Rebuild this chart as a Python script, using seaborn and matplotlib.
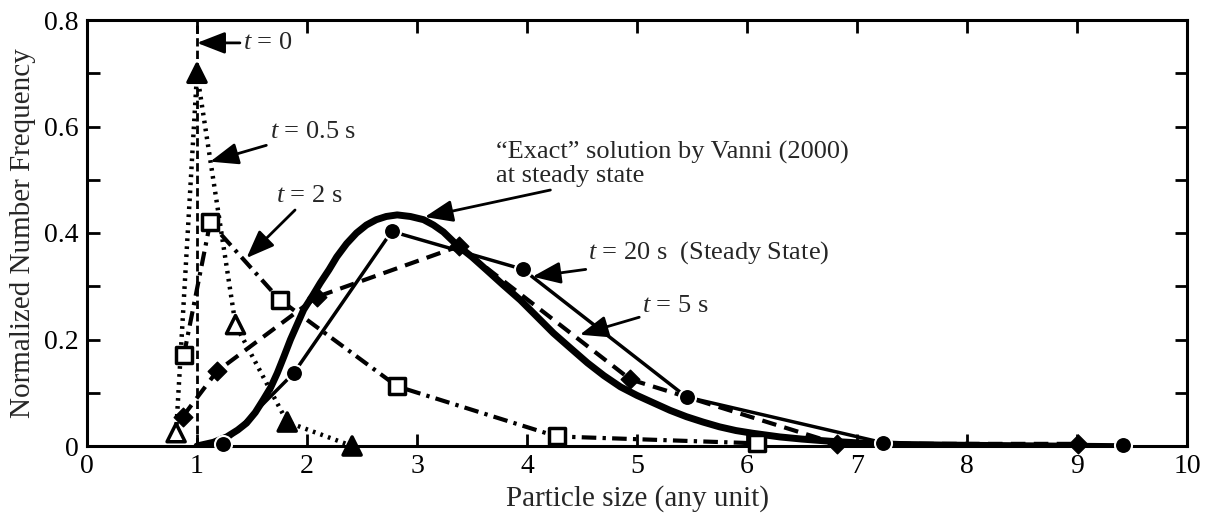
import numpy as np
import pandas as pd
import matplotlib
matplotlib.use("Agg")
import matplotlib.pyplot as plt
import seaborn as sns
from matplotlib.ticker import MultipleLocator, FixedLocator

sns.set_theme(style="ticks")
plt.rcParams['font.family'] = ['Liberation Serif', 'DejaVu Serif']
plt.rcParams['mathtext.fontset'] = 'custom'
plt.rcParams['mathtext.it'] = 'Liberation Serif:italic'
plt.rcParams['mathtext.rm'] = 'Liberation Serif'

# ---- data ----
t0_x = [1.0, 1.0]
t0_y = [0.0, 0.8]

t05_x = [0.81, 1.0, 1.35, 1.82, 2.41]
t05_y = [0.025, 0.70, 0.228, 0.045, 0.0]
t05_filled = [False, True, False, True, True]

t2_x = [0.88, 1.12, 1.75, 2.82, 4.27, 6.09]
t2_y = [0.17, 0.42, 0.275, 0.112, 0.018, 0.005]

t5_x = [0.87, 1.18, 2.09, 3.38, 4.94, 6.82, 9.01]
t5_y = [0.055, 0.14, 0.28, 0.375, 0.125, 0.004, 0.004]

t20_x = [1.24, 1.88, 2.77, 3.96, 5.45, 7.24, 9.42]
t20_y = [0.004, 0.137, 0.403, 0.332, 0.092, 0.006, 0.002]

exact_x = [1.0, 1.15, 1.27, 1.37, 1.45, 1.53, 1.6, 1.67, 1.73, 1.79, 1.85,
           1.91, 1.97, 2.05, 2.12, 2.2, 2.27, 2.36, 2.45, 2.54, 2.63, 2.72,
           2.82, 2.94, 3.06, 3.15, 3.24, 3.36, 3.5, 3.63, 3.78, 3.94, 4.09,
           4.24, 4.4, 4.55, 4.7, 4.85, 5.0, 5.15, 5.3, 5.45, 5.6, 5.75, 5.9,
           6.05, 6.3, 6.5, 6.75, 7.0, 7.25, 7.5, 7.75, 8.0]
exact_y = [0.0, 0.007, 0.017, 0.03, 0.043, 0.063, 0.086, 0.11, 0.137, 0.168,
           0.2, 0.228, 0.256, 0.282, 0.306, 0.331, 0.355, 0.38, 0.40, 0.415,
           0.425, 0.431, 0.434, 0.431, 0.425, 0.415, 0.402, 0.378, 0.355,
           0.331, 0.303, 0.274, 0.243, 0.212, 0.183, 0.156, 0.132, 0.111,
           0.095, 0.081, 0.067, 0.055, 0.045, 0.036, 0.029, 0.024, 0.017,
           0.013, 0.009, 0.006, 0.004, 0.002, 0.001, 0.0]

# ---- figure ----
fig = plt.figure(figsize=(12.15, 5.27), dpi=100)
ax = fig.add_axes([87/1215, (527-446)/527, 1100/1215, 426/527])

K = 'black'
common = dict(ax=ax, color=K, sort=False, estimator=None, errorbar=None)
sns.lineplot(x=exact_x, y=exact_y, lw=5.0, **common)
sns.lineplot(x=t0_x, y=t0_y, lw=2.0, linestyle=(0, (3, 1.5)), **common)
sns.lineplot(x=t05_x, y=t05_y, lw=3.2, linestyle=(0, (0.6, 1.2)), **common)
sns.lineplot(x=t2_x, y=t2_y, lw=3.0, linestyle=(0, (3.5, 1.5, 0.8, 1.5)),
             **common)
sns.lineplot(x=t5_x, y=t5_y, lw=3.0, linestyle=(0, (3.5, 2)), **common)
sns.lineplot(x=t20_x, y=t20_y, lw=2.5, **common)

# markers
fc05 = [K if f else 'white' for f in t05_filled]
ax.scatter(t05_x, t05_y, marker='^', s=170, facecolors=fc05, edgecolors=K,
           linewidths=2.5, zorder=5, clip_on=False)
sns.scatterplot(x=t2_x, y=t2_y, ax=ax, marker='s', s=140, color='white',
                edgecolor=K, linewidth=2.5, zorder=5, clip_on=False)
sns.scatterplot(x=t5_x, y=t5_y, ax=ax, marker='D', s=90, color=K,
                edgecolor=K, linewidth=1, zorder=5, clip_on=False)
sns.scatterplot(x=t20_x, y=t20_y, ax=ax, marker='o', s=150, color=K,
                edgecolor='white', linewidth=1.5, zorder=6, clip_on=False)

# ---- annotations ----
fs_ann = 19
arrow = dict(arrowstyle='-|>,head_length=0.9,head_width=0.35', color=K,
             lw=2.0, shrinkA=0, shrinkB=0)
ax.annotate(r'$t$ = 0', xy=(1.0, 0.757), xytext=(1.42, 0.757),
            fontsize=fs_ann, va='center', ha='left', arrowprops=arrow)
ax.annotate(r'$t$ = 0.5 s', xy=(1.12, 0.534), xytext=(1.66, 0.59),
            fontsize=fs_ann, va='center', ha='left', arrowprops=arrow)
ax.annotate(r'$t$ = 2 s', xy=(1.45, 0.353), xytext=(1.72, 0.47),
            fontsize=fs_ann, va='center', ha='left', arrowprops=arrow)
ax.annotate('\u201cExact\u201d solution by Vanni (2000)\nat steady state',
            xy=(3.07, 0.43), xytext=(3.72, 0.53),
            fontsize=fs_ann, va='center', ha='left', linespacing=1.05,
            arrowprops=arrow)
ax.annotate(r'$t$ = 20 s  (Steady State)', xy=(4.05, 0.318),
            xytext=(4.55, 0.363), fontsize=fs_ann, va='center', ha='left',
            arrowprops=arrow)
ax.annotate(r'$t$ = 5 s', xy=(4.48, 0.209), xytext=(5.05, 0.262),
            fontsize=fs_ann, va='center', ha='left', arrowprops=arrow)

# ---- axes ----
ax.set_xlim(0, 10)
ax.set_ylim(0, 0.8)
ax.xaxis.set_major_locator(MultipleLocator(1))
ax.yaxis.set_major_locator(FixedLocator([0, 0.2, 0.4, 0.6, 0.8]))
ax.yaxis.set_minor_locator(FixedLocator([0.1, 0.3, 0.5, 0.7]))
ax.set_yticklabels(['0', '0.2', '0.4', '0.6', '0.8'])
ax.tick_params(which='both', direction='in', top=True, right=True,
               length=9, width=2.0, labelsize=20, colors=K, pad=6)
for s in ax.spines.values():
    s.set_linewidth(2.2)
    s.set_color(K)
ax.set_xlabel('Particle size (any unit)', fontsize=21, labelpad=4)
ax.set_ylabel('Normalized Number Frequency', fontsize=21, labelpad=6)
ax.grid(False)

fig.savefig('out.png', dpi=100)
